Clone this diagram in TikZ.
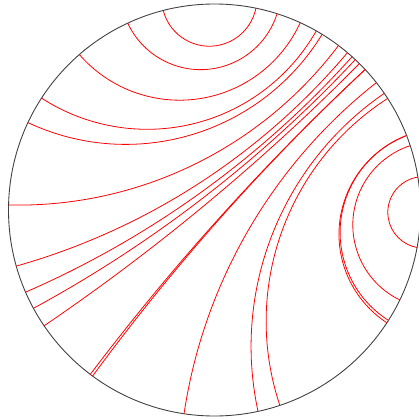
\documentclass[tikz,border=0pt]{standalone}
\usepackage{tikz}

\newcommand{\diskR}{206}
\newcommand{\geod}[2]{%
  \pgfmathsetmacro{\gmid}{(#1+#2)/2}%
  \pgfmathsetmacro{\ghalf}{(#2-#1)/2}%
  \pgfmathsetmacro{\grad}{\diskR*tan(\ghalf)}%
  \draw[geodline] (#2:\diskR) arc[start angle=\gmid+90+\ghalf,end angle=\gmid+270-\ghalf,radius=\grad];%
}

\begin{document}
\begin{tikzpicture}[x=0.02cm,y=0.02cm,geodline/.style={red,line width=0.45pt}]
\path[use as bounding box] (-214.5,-209) rectangle (204.5,210);
\fill[white] (-214.5,-209) rectangle (204.5,210);
\draw[black!75,line width=0.5pt] (0,0) circle (\diskR);
\geod{78.4}{104.4}
\geod{72.3}{114.9}
\geod{65.4}{131.0}
\geod{60.4}{147.1}
\geod{58.5}{154.9}
\geod{53.0}{178.6}
\geod{49.8}{195.8}
\geod{48.1}{203.5}
\geod{46.9}{208.5}
\geod{45.3}{214.2}
\geod{232.9}{403.0}
\geod{233.7}{403.0}
\geod{261.5}{398.2}
\geod{282.2}{394.5}
\geod{288.5}{392.8}
\geod{326.8}{381.2}
\geod{327.6}{381.2}
\geod{334.1}{378.2}
\geod{349.5}{369.2}
\end{tikzpicture}
\end{document}
